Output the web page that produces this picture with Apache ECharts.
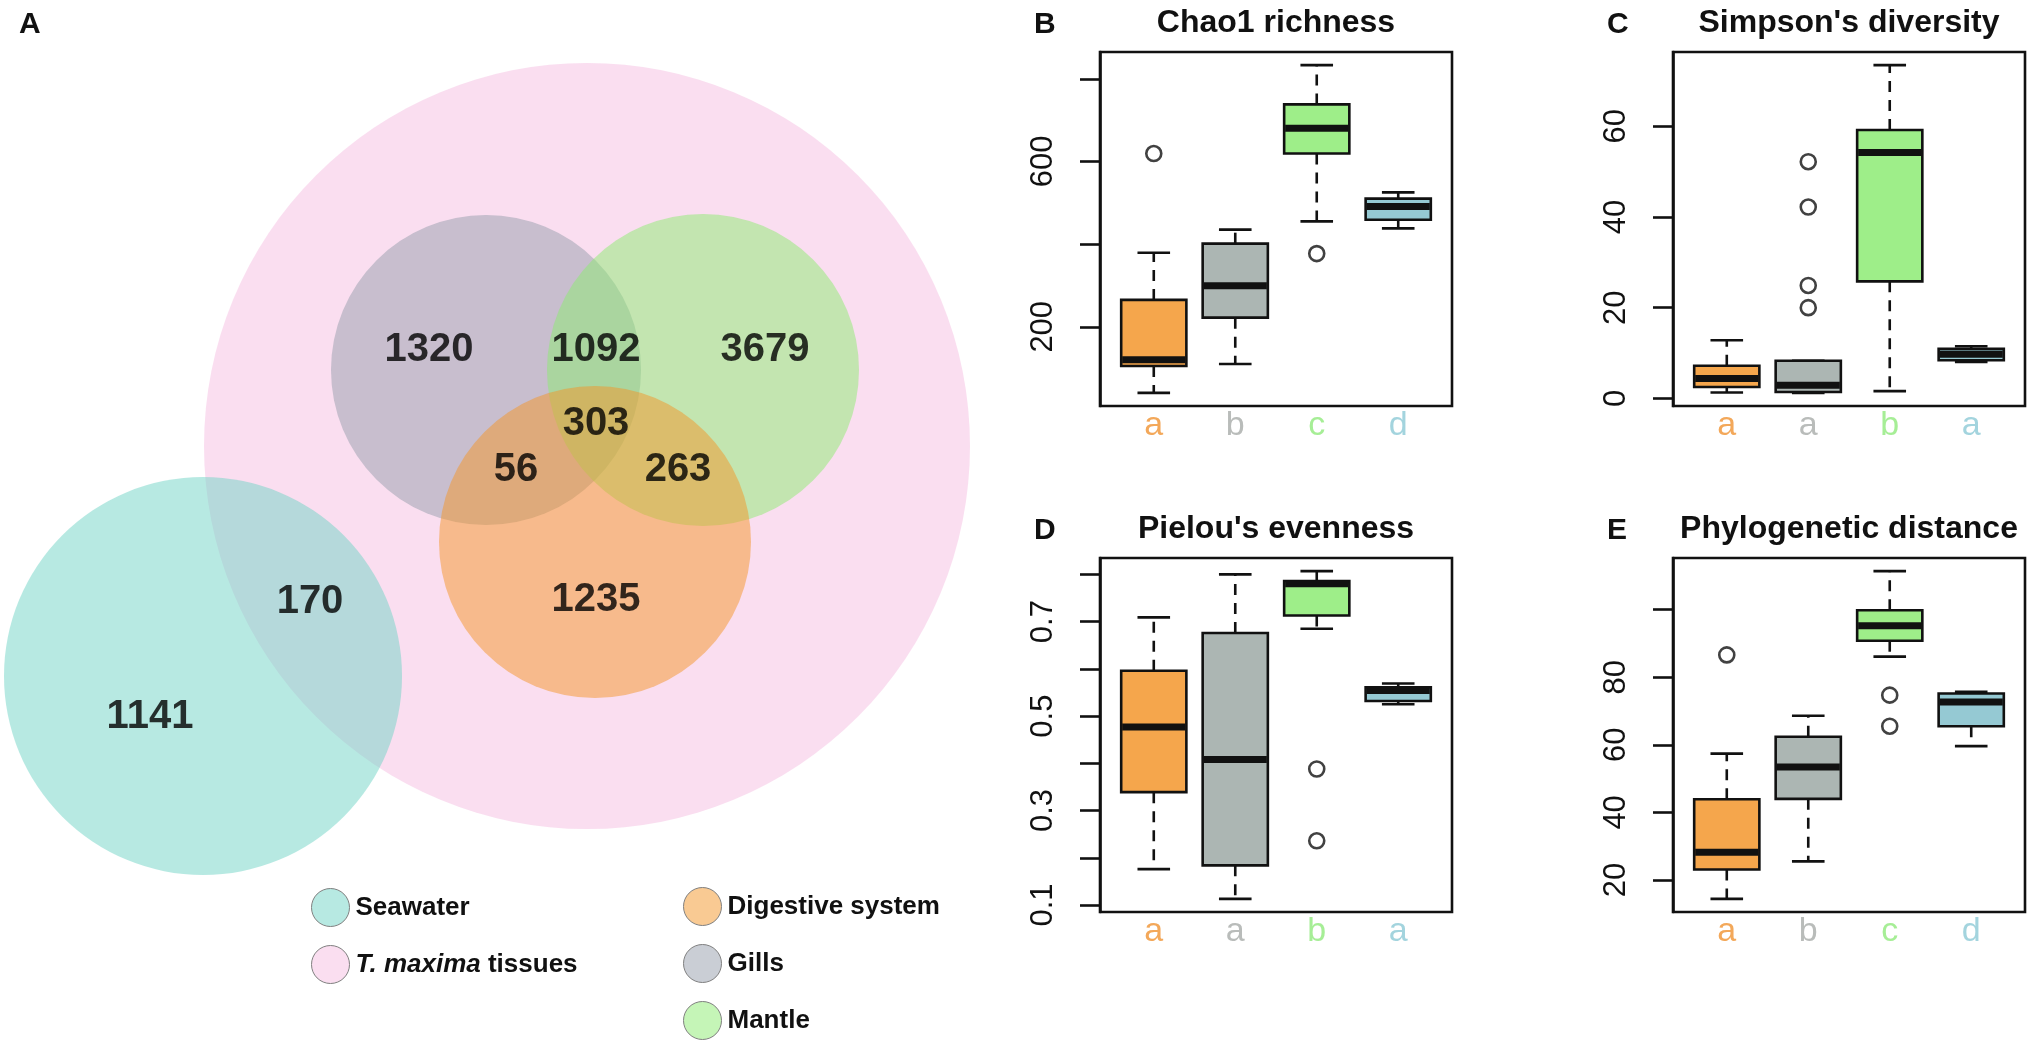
<!DOCTYPE html>
<html><head><meta charset="utf-8">
<script src="https://cdn.jsdelivr.net/npm/echarts@6/dist/echarts.min.js"></script>
<style>html,body{margin:0;padding:0;background:#fff}#c{width:2031px;height:1044px}</style>
</head><body><div id="c"></div><script>
// ---------------- data ----------------
const vennSets = ['T. maxima tissues', 'Seawater', 'Gills', 'Mantle', 'Digestive system'];
const vennRegionNames = ['Seawater only', 'Seawater & tissues', 'Gills only', 'Gills & Mantle', 'Mantle only',
  'Gills & Mantle & Digestive', 'Gills & Digestive', 'Mantle & Digestive', 'Digestive only'];
const vennCounts = [1141, 170, 1320, 1092, 3679, 303, 56, 263, 1235];

const groups = [1, 2, 3, 4];
// box stats: [lower whisker, Q1, median, Q3, upper whisker]
const chaoStats = [[40, 105, 120, 265, 379], [110, 222, 299, 401, 435], [455, 619, 680, 738, 833], [438, 459, 491, 510, 525]];
const chaoOutliers = [[1, 619], [3, 377]];
const chaoLetters = ['a', 'b', 'c', 'd'];
const chaoTicks = [200, 400, 600, 800];
const chaoTickLabels = [200, 600];

const simpsonStats = [[1.3, 2.5, 4.4, 7.2, 12.8], [1.2, 1.4, 2.9, 8.3, 8.3], [1.6, 25.8, 54.2, 59.2, 73.5], [8.0, 8.4, 9.7, 10.9, 11.5]];
const simpsonOutliers = [[2, 52.2], [2, 42.2], [2, 24.9], [2, 20.0]];
const simpsonLetters = ['a', 'a', 'b', 'a'];
const simpsonTicks = [0, 20, 40, 60];
const simpsonTickLabels = [0, 20, 40, 60];

const pielouStats = [[0.176, 0.339, 0.477, 0.596, 0.709], [0.113, 0.184, 0.408, 0.676, 0.800], [0.685, 0.713, 0.780, 0.786, 0.807], [0.525, 0.532, 0.554, 0.561, 0.569]];
const pielouOutliers = [[3, 0.388], [3, 0.236]];
const pielouLetters = ['a', 'a', 'b', 'a'];
const pielouTicks = [0.1, 0.2, 0.3, 0.4, 0.5, 0.6, 0.7, 0.8];
const pielouTickLabels = [0.1, 0.3, 0.5, 0.7];

const phyloStats = [[14.4, 23.1, 28.2, 43.9, 57.4], [25.5, 44.0, 53.4, 62.4, 68.6], [86.1, 90.8, 95.2, 99.8, 111.4], [59.6, 65.5, 72.7, 75.2, 75.7]];
const phyloOutliers = [[1, 86.6], [3, 74.7], [3, 65.5]];
const phyloLetters = ['a', 'b', 'c', 'd'];
const phyloTicks = [20, 40, 60, 80, 100];
const phyloTickLabels = [20, 40, 60, 80];

// ---------------- layout & style ----------------
const FONT = "'Liberation Sans', Arial, Helvetica, sans-serif";
const NARROW = "'Liberation Sans Narrow', 'Arial Narrow', 'Liberation Sans', Arial, sans-serif";
const INK = '#111';
const vennLayout = {
  circles: {
    'T. maxima tissues': [587, 446, 383],
    'Seawater': [203, 676, 199],
    'Gills': [486, 370, 155],
    'Mantle': [703, 370, 156],
    'Digestive system': [595, 542, 156]
  },
  labels: [[150, 717], [310, 602], [429, 350], [596, 350], [765, 350], [596, 424], [516, 470], [678, 470], [596, 600]]
};
const vennColors = {
  'T. maxima tissues': 'rgba(245,189,225,0.5)',
  'Seawater': 'rgba(111,211,197,0.5)',
  'Gills': 'rgba(150,158,172,0.5)',
  'Mantle': 'rgba(140,236,112,0.5)',
  'Digestive system': 'rgba(244,150,40,0.5)'
};
const boxFills = ['#F5A64C', '#ACB6B3', '#9EEE89', '#95C9D3'];
const letterColors = ['#F3A85A', '#B9BCBA', '#A6EE96', '#A3D4DE'];

const panels = [
  { title: 'Chao1 richness', tag: 'B', left: 1100, top: 52, stats: chaoStats, out: chaoOutliers, letters: chaoLetters, ticks: chaoTicks, labels: chaoTickLabels, dec: 0 },
  { title: "Simpson's diversity", tag: 'C', left: 1673, top: 52, stats: simpsonStats, out: simpsonOutliers, letters: simpsonLetters, ticks: simpsonTicks, labels: simpsonTickLabels, dec: 0 },
  { title: "Pielou's evenness", tag: 'D', left: 1100, top: 558, stats: pielouStats, out: pielouOutliers, letters: pielouLetters, ticks: pielouTicks, labels: pielouTickLabels, dec: 1 },
  { title: 'Phylogenetic distance', tag: 'E', left: 1673, top: 558, stats: phyloStats, out: phyloOutliers, letters: phyloLetters, ticks: phyloTicks, labels: phyloTickLabels, dec: 0 }
];
const PW = 352, PH = 354;

function rRange(stats, out) {
  let lo = Infinity, hi = -Infinity;
  stats.forEach(s => { lo = Math.min(lo, s[0]); hi = Math.max(hi, s[4]); });
  out.forEach(o => { lo = Math.min(lo, o[1]); hi = Math.max(hi, o[1]); });
  const pad = (hi - lo) * 0.04;
  return [lo - pad, hi + pad];
}

function boxRender(params, api) {
  const i = params.dataIndex;
  const x = api.value(0);
  const pLo = api.coord([x, api.value(1)]);
  const pQ1 = api.coord([x, api.value(2)]);
  const pMed = api.coord([x, api.value(3)]);
  const pQ3 = api.coord([x, api.value(4)]);
  const pHi = api.coord([x, api.value(5)]);
  const hw = api.size([0.4, 0])[0];
  const cw = api.size([0.2, 0])[0];
  const cx = pMed[0];
  const lw = 2.6, dash = [11, 8];
  const st = { stroke: INK, lineWidth: lw };
  return {
    type: 'group', children: [
      { type: 'line', shape: { x1: cx, y1: pQ3[1], x2: cx, y2: pHi[1] }, style: { stroke: INK, lineWidth: lw, lineDash: dash } },
      { type: 'line', shape: { x1: cx, y1: pQ1[1], x2: cx, y2: pLo[1] }, style: { stroke: INK, lineWidth: lw, lineDash: dash } },
      { type: 'line', shape: { x1: cx - cw, y1: pHi[1], x2: cx + cw, y2: pHi[1] }, style: st },
      { type: 'line', shape: { x1: cx - cw, y1: pLo[1], x2: cx + cw, y2: pLo[1] }, style: st },
      { type: 'rect', shape: { x: cx - hw, y: pQ3[1], width: 2 * hw, height: pQ1[1] - pQ3[1] }, style: { fill: boxFills[i], stroke: INK, lineWidth: lw } },
      { type: 'line', shape: { x1: cx - hw + 1, y1: pMed[1], x2: cx + hw - 1, y2: pMed[1] }, style: { stroke: INK, lineWidth: 7 } }
    ]
  };
}

const grids = [{ left: 0, top: 0, width: 1000, height: 1044, show: false }];
const xAxes = [{ type: 'value', gridIndex: 0, min: 0, max: 1000, show: false }];
const yAxes = [{ type: 'value', gridIndex: 0, min: 0, max: 1044, inverse: true, show: false }];
const series = [];
const titles = [
  { text: 'A', left: 19, top: 10, padding: 0, textStyle: { fontSize: 30, fontWeight: 'bold', color: INK, fontFamily: FONT } }
];

// Venn circles
vennSets.forEach(name => {
  const col = vennColors[name];
  series.push({
    type: 'custom', name: name, xAxisIndex: 0, yAxisIndex: 0, silent: true,
    itemStyle: { color: col },
    data: [vennLayout.circles[name]],
    renderItem: (params, api) => {
      const c = api.coord([api.value(0), api.value(1)]);
      const r = api.size([api.value(2), 0])[0];
      return { type: 'circle', shape: { cx: c[0], cy: c[1], r: r }, style: { fill: col } };
    }
  });
});
// Venn counts
series.push({
  type: 'scatter', xAxisIndex: 0, yAxisIndex: 0, symbolSize: 1, silent: true, z: 10,
  itemStyle: { color: 'rgba(0,0,0,0)' },
  data: vennLayout.labels.map((p, i) => ({ name: vennRegionNames[i], value: [p[0], p[1], vennCounts[i]] })),
  label: { show: true, position: 'inside', formatter: p => String(p.value[2]), fontSize: 40, fontWeight: 'bold', color: '#000', fontFamily: NARROW }
});

const rich = {};
letterColors.forEach((c, i) => { rich['c' + i] = { color: c, fontSize: 34, fontFamily: FONT }; });

panels.forEach((p, k) => {
  const gi = k + 1;
  const rng = rRange(p.stats, p.out);
  grids.push({ left: p.left, top: p.top, width: PW, height: PH, show: true, borderColor: INK, borderWidth: 2.6, backgroundColor: 'rgba(0,0,0,0)' });
  xAxes.push({
    type: 'value', gridIndex: gi, min: 0.34, max: 4.66,
    axisLine: { show: false }, axisTick: { show: false }, splitLine: { show: false },
    axisLabel: {
      customValues: groups, margin: 3, fontSize: 34, fontFamily: FONT,
      formatter: v => { const i = Math.round(v) - 1; return '{c' + i + '|' + p.letters[i] + '}'; },
      rich: rich
    }
  });
  yAxes.push({
    type: 'value', gridIndex: gi, min: rng[0], max: rng[1],
    axisLine: { show: true, lineStyle: { color: INK, width: 2.6 } },
    splitLine: { show: false },
    axisTick: { show: true, customValues: p.ticks, length: 20, lineStyle: { color: INK, width: 2.6 } },
    axisLabel: {
      customValues: p.labels, rotate: 90, margin: 41, fontSize: 31, color: INK, fontFamily: FONT,
      formatter: v => Number(v).toFixed(p.dec)
    }
  });
  series.push({
    type: 'custom', xAxisIndex: gi, yAxisIndex: gi, silent: true,
    data: p.stats.map((s, i) => [groups[i]].concat(s)),
    renderItem: boxRender, z: 3
  });
  series.push({
    type: 'scatter', xAxisIndex: gi, yAxisIndex: gi, silent: true, z: 4,
    symbol: 'circle', symbolSize: 15,
    itemStyle: { color: 'rgba(255,255,255,0)', borderColor: INK, borderWidth: 2.6 },
    data: p.out
  });
  const cx = p.left + PW / 2;
  titles.push({ text: p.title, left: cx, textAlign: 'center', top: p.top - 45, padding: 0, textStyle: { fontSize: 32, fontWeight: 'bold', color: INK, fontFamily: FONT } });
  titles.push({ text: p.tag, left: p.left - 66, top: p.top - 42, padding: 0, textStyle: { fontSize: 30, fontWeight: 'bold', color: INK, fontFamily: FONT } });
});

const legendText = {
  fontSize: 26, fontWeight: 'bold', color: INK, fontFamily: FONT,
  rich: { i: { fontSize: 26, fontWeight: 'bold', fontStyle: 'italic', color: INK, fontFamily: FONT }, n: { fontSize: 26, fontWeight: 'bold', color: INK, fontFamily: FONT } }
};
const legendFmt = name => name === 'T. maxima tissues' ? '{i|T. maxima}{n| tissues}' : name;
const legendBase = { orient: 'vertical', itemWidth: 40, itemHeight: 38, icon: 'circle', symbolKeepAspect: true, selectedMode: false, padding: 0, textStyle: legendText, formatter: legendFmt, itemStyle: { borderColor: '#808080', borderWidth: 1 } };
const legends = [
  Object.assign({}, legendBase, { data: ['Seawater', 'T. maxima tissues'], left: 311, top: 888, itemGap: 18 }),
  Object.assign({}, legendBase, { data: ['Digestive system', 'Gills', 'Mantle'], left: 683, top: 887, itemGap: 18, height: 157 })
];

const chart = echarts.init(document.getElementById('c'), null, { renderer: 'canvas' });
chart.setOption({
  animation: false,
  backgroundColor: '#fff',
  title: titles,
  legend: legends,
  grid: grids,
  xAxis: xAxes,
  yAxis: yAxes,
  series: series
});
</script></body></html>
